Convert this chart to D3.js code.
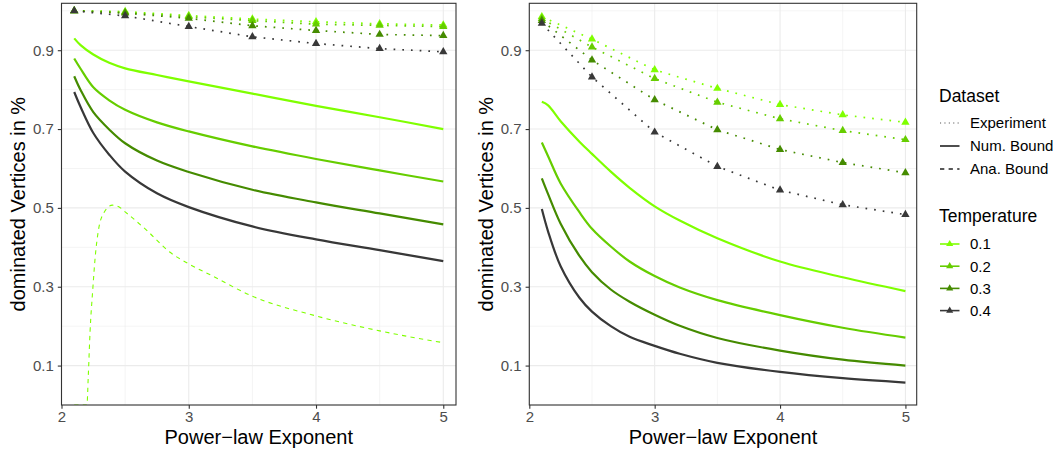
<!DOCTYPE html>
<html>
<head>
<meta charset="utf-8">
<script src="https://cdn.jsdelivr.net/npm/d3@7"></script>
<style>
  body { margin: 0; background: #fff; }
  svg { display: block; font-family: "Liberation Sans", Arial, sans-serif; }
</style>
</head>
<body>
<svg id="chart" width="1058" height="454"></svg>
<script>
// temperatures (legend + colours)
const temperatures = ['0.1', '0.2', '0.3', '0.4'];
const tempColors = ['#7FFF00', '#66CD00', '#458B00', '#383838'];

// experiment: measured points
const expX = [2.1, 2.5, 3, 3.5, 4, 4.5, 5];
const leftExp = [
  [1.0, 0.998, 0.988, 0.979, 0.972, 0.967, 0.964],
  [1.0, 0.996, 0.985, 0.975, 0.966, 0.963, 0.960],
  [1.0, 0.994, 0.981, 0.962, 0.950, 0.940, 0.937],
  [1.0, 0.987, 0.960, 0.934, 0.917, 0.904, 0.896]
];
const rightExp = [
  [0.985, 0.928, 0.850, 0.803, 0.762, 0.736, 0.717],
  [0.980, 0.908, 0.828, 0.768, 0.726, 0.696, 0.673],
  [0.975, 0.875, 0.774, 0.698, 0.648, 0.615, 0.589],
  [0.968, 0.832, 0.692, 0.605, 0.545, 0.508, 0.483]
];

// numerical bound
const leftNumX = [2.1, 2.15, 2.25, 2.375, 2.5, 2.75, 3, 3.5, 4, 4.5, 5];
const leftNum = [
  [0.930, 0.913, 0.889, 0.868, 0.854, 0.837, 0.821, 0.790, 0.759, 0.730, 0.700],
  [0.879, 0.853, 0.806, 0.773, 0.749, 0.717, 0.694, 0.656, 0.624, 0.595, 0.567],
  [0.834, 0.799, 0.743, 0.699, 0.664, 0.620, 0.591, 0.546, 0.514, 0.486, 0.458],
  [0.794, 0.756, 0.690, 0.635, 0.592, 0.537, 0.502, 0.453, 0.420, 0.393, 0.365]
];
const rightNumX = [2.1, 2.15, 2.25, 2.4, 2.5, 2.65, 2.8, 3, 3.2, 3.5, 4, 4.5, 5];
const rightNum = [
  [0.769, 0.760, 0.720, 0.668, 0.637, 0.592, 0.551, 0.504, 0.468, 0.423, 0.364, 0.324, 0.289],
  [0.666, 0.631, 0.562, 0.489, 0.447, 0.402, 0.364, 0.327, 0.298, 0.266, 0.228, 0.196, 0.171],
  [0.575, 0.535, 0.460, 0.378, 0.337, 0.293, 0.262, 0.229, 0.201, 0.170, 0.138, 0.115, 0.100],
  [0.497, 0.440, 0.352, 0.272, 0.237, 0.200, 0.173, 0.150, 0.130, 0.107, 0.084, 0.068, 0.057]
];

// analytical bound (only T = 0.1 visible, left panel)
const anaX = [2.1, 2.2, 2.21, 2.225, 2.245, 2.265, 2.29, 2.33, 2.4, 2.45, 2.5, 2.67, 2.85, 3, 3.17, 3.5, 4, 4.5, 5];
const anaY = [0, 0, 0.07, 0.19, 0.29, 0.376, 0.443, 0.486, 0.507, 0.503, 0.49, 0.443, 0.388, 0.358, 0.33, 0.276, 0.226, 0.188, 0.158];

const xTicks = [2, 3, 4, 5];
const yTicks = [0.1, 0.3, 0.5, 0.7, 0.9];
const xMinor = [2.5, 3.5, 4.5];
const yMinor = [0, 0.2, 0.4, 0.6, 0.8, 1.0];

const svg = d3.select('#chart');
const panelTop = 3.3, panelBottom = 405;

function drawPanel(id, left, right, xMax, exp, numX, num, ana) {
  const x = d3.scaleLinear().domain([2, xMax]).range([left, right]);
  const y = d3.scaleLinear().domain([0, 1.019]).range([panelBottom, panelTop]);
  const g = svg.append('g');

  g.append('clipPath').attr('id', 'clip' + id)
    .append('rect').attr('x', left).attr('y', panelTop)
    .attr('width', right - left).attr('height', panelBottom - panelTop);

  // grille
  g.selectAll('.gxm').data(xMinor).join('line')
    .attr('x1', d => x(d)).attr('x2', d => x(d)).attr('y1', panelTop).attr('y2', panelBottom)
    .attr('stroke', '#EBEBEB').attr('stroke-width', 0.55);
  g.selectAll('.gym').data(yMinor).join('line')
    .attr('y1', d => y(d)).attr('y2', d => y(d)).attr('x1', left).attr('x2', right)
    .attr('stroke', '#EBEBEB').attr('stroke-width', 0.55);
  g.selectAll('.gx').data(xTicks).join('line')
    .attr('x1', d => x(d)).attr('x2', d => x(d)).attr('y1', panelTop).attr('y2', panelBottom)
    .attr('stroke', '#EBEBEB').attr('stroke-width', 1.1);
  g.selectAll('.gy').data(yTicks).join('line')
    .attr('y1', d => y(d)).attr('y2', d => y(d)).attr('x1', left).attr('x2', right)
    .attr('stroke', '#EBEBEB').attr('stroke-width', 1.1);

  const plot = g.append('g').attr('clip-path', `url(#clip${id})`);
  const smooth = d3.line().x(d => x(d[0])).y(d => y(d[1])).curve(d3.curveCatmullRom.alpha(0.5));
  const mono = d3.line().x(d => x(d[0])).y(d => y(d[1])).curve(d3.curveMonotoneX);
  const straight = d3.line().x(d => x(d[0])).y(d => y(d[1]));

  if (ana) {
    plot.append('path').datum(d3.zip(anaX, anaY))
      .attr('d', mono).attr('fill', 'none')
      .attr('stroke', tempColors[0]).attr('stroke-width', 1.1)
      .attr('stroke-dasharray', '4.3 4.3');
  }

  num.forEach((vals, i) => {
    plot.append('path').datum(d3.zip(numX, vals))
      .attr('d', smooth).attr('fill', 'none')
      .attr('stroke', tempColors[i]).attr('stroke-width', 2.2);
  });

  exp.forEach((vals, i) => {
    const pts = d3.zip(expX, vals);
    plot.append('path').datum(pts)
      .attr('d', straight).attr('fill', 'none')
      .attr('stroke', tempColors[i]).attr('stroke-width', 1.7)
      .attr('stroke-dasharray', '1.7 7');
    plot.selectAll('.tri' + i).data(pts).join('path')
      .attr('transform', d => `translate(${x(d[0])},${y(d[1])})`)
      .attr('d', d3.symbol(d3.symbolTriangle, 30))
      .attr('fill', tempColors[i]);
  });

  // cadre
  g.append('rect').attr('x', left).attr('y', panelTop)
    .attr('width', right - left).attr('height', panelBottom - panelTop)
    .attr('fill', 'none').attr('stroke', '#333333').attr('stroke-width', 1.1);

  // axes
  const ax = g.append('g').attr('transform', `translate(0,${panelBottom})`)
    .call(d3.axisBottom(x).tickValues(xTicks).tickFormat(d3.format('d')).tickSize(3.7).tickPadding(2.5));
  const ay = g.append('g').attr('transform', `translate(${left},0)`)
    .call(d3.axisLeft(y).tickValues(yTicks).tickFormat(d3.format('.1f')).tickSize(3.7).tickPadding(4));
  [ax, ay].forEach(a => {
    a.select('.domain').remove();
    a.selectAll('.tick line').attr('stroke', '#333333').attr('stroke-width', 1.1);
    a.selectAll('.tick text').attr('fill', '#4D4D4D')
      .style('font-size', '15px').style('font-family', '"Liberation Sans", Arial, sans-serif');
  });

  g.append('text').attr('x', (left + right) / 2).attr('y', 444)
    .attr('text-anchor', 'middle').style('font-size', '20px').text('Power−law Exponent');
  g.append('text')
    .attr('transform', `translate(${left - 36.5},${(panelTop + panelBottom) / 2}) rotate(-90)`)
    .attr('text-anchor', 'middle').style('font-size', '20px').text('dominated Vertices in %');
}

drawPanel('L', 61.5, 456, 5.1, leftExp, leftNumX, leftNum, true);
drawPanel('R', 529.3, 916.7, 5.09, rightExp, rightNumX, rightNum, false);

// légende
const lg = svg.append('g');
const datasetLabels = ['Experiment', 'Num. Bound', 'Ana. Bound'];
const datasetDash = ['1.1 3.3', null, '4.3 4.3'];
lg.append('text').attr('x', 939).attr('y', 102).style('font-size', '17.5px').text('Dataset');
datasetLabels.forEach((lab, i) => {
  const cy = 123 + i * 23;
  lg.append('line').attr('x1', 940).attr('x2', 959.5).attr('y1', cy).attr('y2', cy)
    .attr('stroke', i === 0 ? '#555' : '#222').attr('stroke-width', i === 0 ? 1.1 : 1.6)
    .attr('stroke-dasharray', datasetDash[i]);
  lg.append('text').attr('x', 970).attr('y', cy + 5.4).style('font-size', '15px').text(lab);
});
lg.append('text').attr('x', 939).attr('y', 222).style('font-size', '17.5px').text('Temperature');
temperatures.forEach((t, i) => {
  const cy = 244 + i * 22.2;
  lg.append('line').attr('x1', 940).attr('x2', 959.5).attr('y1', cy).attr('y2', cy)
    .attr('stroke', tempColors[i]).attr('stroke-width', 1.6);
  lg.append('path').attr('transform', `translate(949.7,${cy})`)
    .attr('d', d3.symbol(d3.symbolTriangle, 22)).attr('fill', tempColors[i]);
  lg.append('text').attr('x', 970).attr('y', cy + 5.4).style('font-size', '15px').text(t);
});
</script>
</body>
</html>
